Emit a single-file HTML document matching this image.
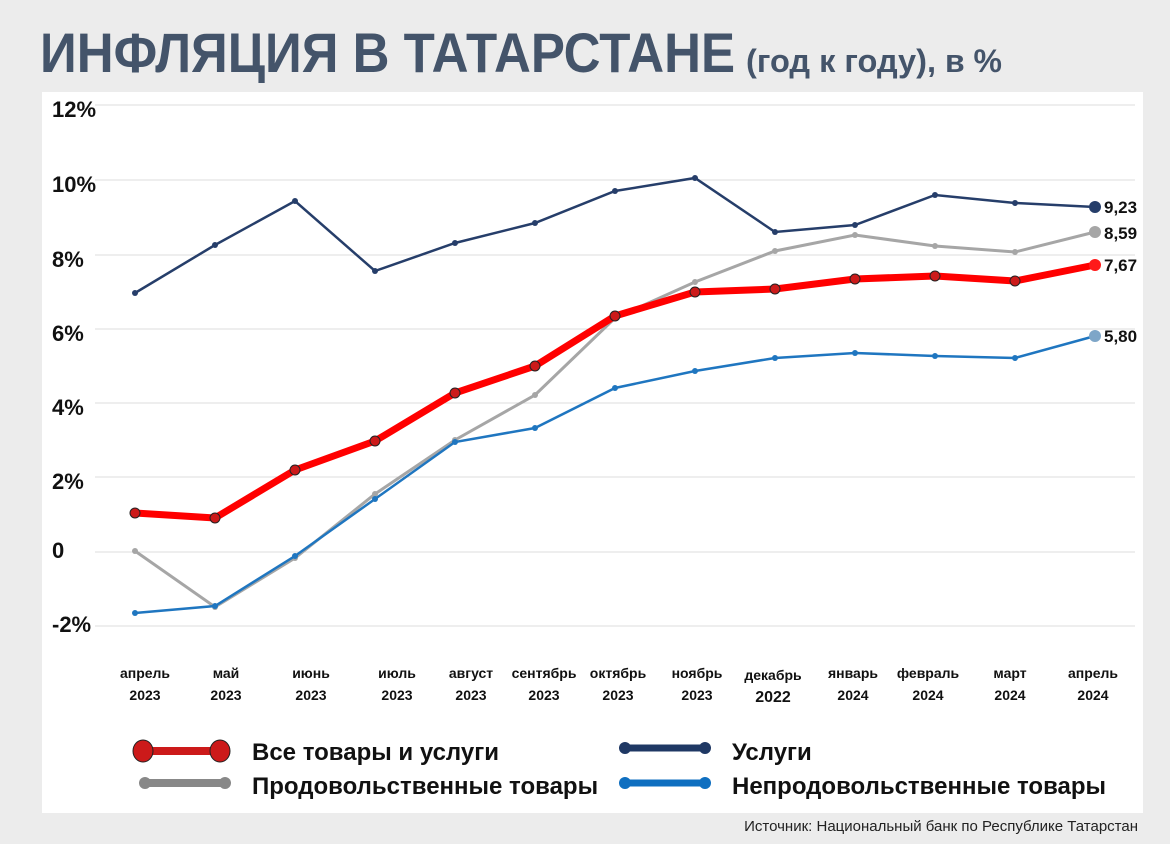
<!DOCTYPE html>
<html><head><meta charset="utf-8"><style>
body{margin:0;width:1170px;height:839px;background:#ececec;overflow:hidden;font-family:"Liberation Sans","DejaVu Sans",sans-serif}
</style></head><body>
<svg width="1170" height="839" xmlns="http://www.w3.org/2000/svg" font-family="Liberation Sans, DejaVu Sans, sans-serif">
<rect width="1170" height="839" fill="#ececec"/>
<text x="40" y="72" font-size="56" font-weight="bold" fill="#44546a" textLength="695" lengthAdjust="spacingAndGlyphs">ИНФЛЯЦИЯ В ТАТАРСТАНЕ</text>
<text x="746" y="72" font-size="32" font-weight="bold" fill="#44546a" textLength="190" lengthAdjust="spacingAndGlyphs">(год к году),</text>
<text x="945" y="72" font-size="32" font-weight="bold" fill="#44546a" textLength="57" lengthAdjust="spacingAndGlyphs">в %</text>
<rect x="42" y="92" width="1101" height="721" fill="#fff"/>
<g stroke="#dcdcdc" stroke-width="1">
<line x1="95" x2="1135" y1="105" y2="105"/><line x1="95" x2="1135" y1="180" y2="180"/><line x1="95" x2="1135" y1="255" y2="255"/><line x1="95" x2="1135" y1="329" y2="329"/><line x1="95" x2="1135" y1="403" y2="403"/><line x1="95" x2="1135" y1="477" y2="477"/><line x1="95" x2="1135" y1="552" y2="552"/><line x1="95" x2="1135" y1="626" y2="626"/>
</g>
<g font-size="22" font-weight="bold" fill="#111">
<text x="52" y="117">12%</text><text x="52" y="192">10%</text><text x="52" y="267">8%</text><text x="52" y="341">6%</text><text x="52" y="415">4%</text><text x="52" y="489">2%</text><text x="52" y="558">0</text><text x="52" y="632">-2%</text>
</g>
<g font-size="14" font-weight="bold" fill="#111" text-anchor="middle">
<text x="145" y="678">апрель</text><text x="145" y="700">2023</text>
<text x="226" y="678">май</text><text x="226" y="700">2023</text>
<text x="311" y="678">июнь</text><text x="311" y="700">2023</text>
<text x="397" y="678">июль</text><text x="397" y="700">2023</text>
<text x="471" y="678">август</text><text x="471" y="700">2023</text>
<text x="544" y="678">сентябрь</text><text x="544" y="700">2023</text>
<text x="618" y="678">октябрь</text><text x="618" y="700">2023</text>
<text x="697" y="678">ноябрь</text><text x="697" y="700">2023</text>
<text x="773" y="680">декабрь</text><text x="773" y="702" font-size="16">2022</text>
<text x="853" y="678">январь</text><text x="853" y="700">2024</text>
<text x="928" y="678">февраль</text><text x="928" y="700">2024</text>
<text x="1010" y="678">март</text><text x="1010" y="700">2024</text>
<text x="1093" y="678">апрель</text><text x="1093" y="700">2024</text>
</g>
<polyline fill="none" stroke="#a6a6a6" stroke-width="3" points="135,551 215,607 295,558 375,494 455,440 535,395 615,318 695,282 775,251 855,235 935,246 1015,252 1095,232"/>
<g fill="#a6a6a6"><circle cx="135" cy="551" r="3"/><circle cx="215" cy="607" r="3"/><circle cx="295" cy="558" r="3"/><circle cx="375" cy="494" r="3"/><circle cx="455" cy="440" r="3"/><circle cx="535" cy="395" r="3"/><circle cx="615" cy="318" r="3"/><circle cx="695" cy="282" r="3"/><circle cx="775" cy="251" r="3"/><circle cx="855" cy="235" r="3"/><circle cx="935" cy="246" r="3"/><circle cx="1015" cy="252" r="3"/><circle cx="1095" cy="232" r="6"/></g>
<polyline fill="none" stroke="#1f76c0" stroke-width="2.5" points="135,613 215,606 295,556 375,499 455,442 535,428 615,388 695,371 775,358 855,353 935,356 1015,358 1095,336"/>
<g fill="#1f76c0"><circle cx="135" cy="613" r="3"/><circle cx="215" cy="606" r="3"/><circle cx="295" cy="556" r="3"/><circle cx="375" cy="499" r="3"/><circle cx="455" cy="442" r="3"/><circle cx="535" cy="428" r="3"/><circle cx="615" cy="388" r="3"/><circle cx="695" cy="371" r="3"/><circle cx="775" cy="358" r="3"/><circle cx="855" cy="353" r="3"/><circle cx="935" cy="356" r="3"/><circle cx="1015" cy="358" r="3"/><circle cx="1095" cy="336" r="6" fill="#7ea6c8"/></g>
<polyline fill="none" stroke="#263e6a" stroke-width="2.5" points="135,293 215,245 295,201 375,271 455,243 535,223 615,191 695,178 775,232 855,225 935,195 1015,203 1095,207"/>
<g fill="#263e6a"><circle cx="135" cy="293" r="3"/><circle cx="215" cy="245" r="3"/><circle cx="295" cy="201" r="3"/><circle cx="375" cy="271" r="3"/><circle cx="455" cy="243" r="3"/><circle cx="535" cy="223" r="3"/><circle cx="615" cy="191" r="3"/><circle cx="695" cy="178" r="3"/><circle cx="775" cy="232" r="3"/><circle cx="855" cy="225" r="3"/><circle cx="935" cy="195" r="3"/><circle cx="1015" cy="203" r="3"/><circle cx="1095" cy="207" r="6"/></g>
<polyline fill="none" stroke="#ff0000" stroke-width="7" stroke-linejoin="round" points="135,513 215,518 295,470 375,441 455,393 535,366 615,316 695,292 775,289 855,279 935,276 1015,281 1095,265"/>
<g fill="#cc1a1a" stroke="#222" stroke-width="1"><circle cx="135" cy="513" r="5"/><circle cx="215" cy="518" r="5"/><circle cx="295" cy="470" r="5"/><circle cx="375" cy="441" r="5"/><circle cx="455" cy="393" r="5"/><circle cx="535" cy="366" r="5"/><circle cx="615" cy="316" r="5"/><circle cx="695" cy="292" r="5"/><circle cx="775" cy="289" r="5"/><circle cx="855" cy="279" r="5"/><circle cx="935" cy="276" r="5"/><circle cx="1015" cy="281" r="5"/><circle cx="1095" cy="265" r="6" fill="#ff1a1a" stroke="none"/></g>
<g font-size="17" font-weight="bold" fill="#111">
<text x="1104" y="213">9,23</text><text x="1104" y="239">8,59</text><text x="1104" y="271">7,67</text><text x="1104" y="342">5,80</text>
</g>
<line x1="140" y1="751" x2="222" y2="751" stroke="#cc1a1a" stroke-width="8"/>
<ellipse cx="143" cy="751" rx="10" ry="11" fill="#cc1a1a" stroke="#222"/><ellipse cx="220" cy="751" rx="10" ry="11" fill="#cc1a1a" stroke="#222"/>
<line x1="145" y1="783" x2="225" y2="783" stroke="#888" stroke-width="8" stroke-linecap="round"/>
<circle cx="145" cy="783" r="6" fill="#888"/><circle cx="225" cy="783" r="6" fill="#888"/>
<line x1="625" y1="748" x2="705" y2="748" stroke="#1f3864" stroke-width="7" stroke-linecap="round"/>
<circle cx="625" cy="748" r="6" fill="#1f3864"/><circle cx="705" cy="748" r="6" fill="#1f3864"/>
<line x1="625" y1="783" x2="705" y2="783" stroke="#0f6fc0" stroke-width="7" stroke-linecap="round"/>
<circle cx="625" cy="783" r="6" fill="#0f6fc0"/><circle cx="705" cy="783" r="6" fill="#0f6fc0"/>
<g font-size="24" font-weight="bold" fill="#111">
<text x="252" y="760">Все товары и услуги</text>
<text x="252" y="794">Продовольственные товары</text>
<text x="732" y="760">Услуги</text>
<text x="732" y="794">Непродовольственные товары</text>
</g>
<text x="1138" y="831" font-size="15" fill="#222" text-anchor="end">Источник: Национальный банк по Республике Татарстан</text>
</svg>
</body></html>
